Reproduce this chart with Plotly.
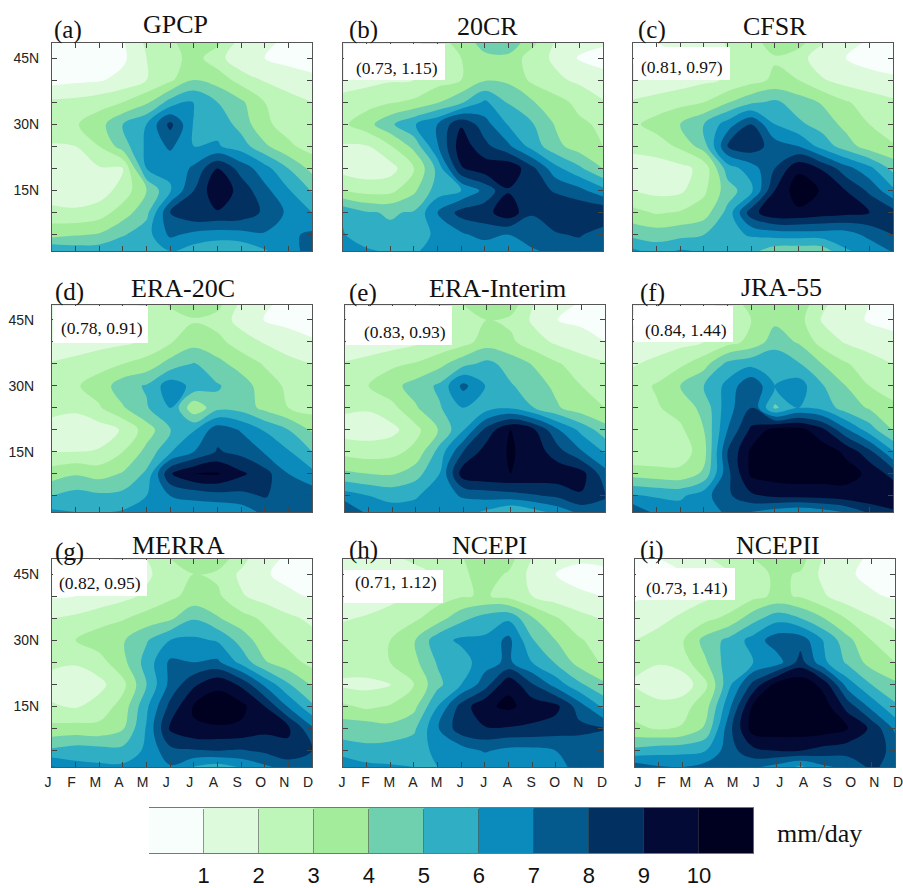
import plotly.graph_objects as go

months = ["J","F","M","A","M","J","J","A","S","O","N","D"]
lats = [48.5,45,40,35,30,25,20,15,10,5,1.3]
levels = [1,2,3,4,5,6,7,8,9,10]
band_colors = ["#F7FEFB","#DDFADC","#BEF5B9","#A3EC9B","#6FD0B0","#2FAEC4","#0A8BBC","#045A8D","#023060","#020A35","#000020"]

gpcp = [
 [.7,.7,.7,.9,2.2,2.8,3.6,3.2,1.6,1.1,.9,.9],
 [.6,.6,.6,.8,2.0,2.6,3.4,2.4,1.2,1.0,.7,.6],
 [.6,.8,.9,1.3,2.0,2.8,4.0,3.6,2.6,1.9,1.5,1.2],
 [2.2,2.3,2.6,3.0,3.8,5.4,6.1,5.0,4.2,3.0,2.4,2.0],
 [2.6,2.9,3.6,5.0,6.0,8.3,5.9,5.7,4.6,3.2,2.6,2.1],
 [1.9,2.0,3.0,4.5,6.2,7.2,6.0,6.1,5.5,4.2,3.2,2.6],
 [1.4,1.5,1.9,2.0,6.0,6.2,7.2,9.0,7.6,6.4,5.0,3.7],
 [1.2,1.3,1.5,2.4,4.0,5.9,8.0,9.8,8.6,7.3,6.1,4.9],
 [2.4,2.2,2.5,3.5,4.7,8.0,8.9,8.9,8.7,7.8,6.8,6.0],
 [3.6,3.9,4.1,4.9,5.6,7.2,6.7,6.5,6.6,6.9,6.8,7.2],
 [6.0,5.6,5.6,5.9,5.8,6.0,5.5,5.1,5.2,5.9,6.6,7.4],
]
cr20 = [
 [1.3,1.3,1.5,1.7,2.7,3.3,4.5,4.8,3.3,1.9,1.4,1.1],
 [1.2,1.2,1.4,1.7,2.5,3.0,3.7,3.7,2.5,1.8,.9,.7],
 [1.6,1.7,1.9,2.0,2.6,3.0,3.9,3.8,2.8,2.2,1.8,1.3],
 [2.3,2.6,2.9,3.2,3.9,4.8,6.2,4.9,4.1,3.4,2.7,2.1],
 [2.8,3.6,4.8,5.9,7.0,8.9,7.4,5.9,5.1,3.9,3.2,2.8],
 [1.9,1.9,2.9,4.3,6.9,9.6,8.3,7.2,5.6,4.3,3.5,3.0],
 [1.6,1.4,1.6,2.9,5.3,8.9,9.6,9.8,8.3,6.3,5.2,4.0],
 [3.0,2.6,2.7,3.8,5.5,6.0,7.3,8.9,8.4,7.9,7.3,6.3],
 [5.8,5.1,4.9,5.1,7.0,8.4,8.6,9.7,8.1,8.7,8.9,8.9],
 [6.1,5.2,5.2,5.3,6.3,6.8,7.4,7.0,7.4,7.9,8.1,7.5],
 [6.3,6.2,5.8,5.9,6.3,6.3,6.2,6.5,6.9,7.2,7.5,7.5],
]
cfsr = [
 [1.0,1.0,1.1,1.3,2.1,2.6,3.5,3.4,2.1,1.3,.9,.8],
 [.9,.9,1.0,1.2,2.0,2.5,2.9,2.4,1.4,1.0,.7,.7],
 [1.3,1.3,1.5,1.8,2.1,2.6,3.2,3.0,2.1,1.6,1.3,1.1],
 [2.1,2.4,2.7,3.0,3.9,4.8,5.2,4.5,3.9,3.1,2.6,2.2],
 [2.8,3.4,4.0,5.0,6.5,8.0,6.0,5.2,4.6,3.7,3.0,2.5],
 [2.2,2.5,3.2,4.5,8.0,8.6,7.5,7.0,5.6,4.5,3.5,3.1],
 [1.6,1.5,1.7,2.3,5.5,6.5,8.0,9.8,8.9,7.4,6.3,4.7],
 [2.0,1.7,1.8,2.8,4.5,5.7,9.0,10.6,9.9,9.0,7.8,6.2],
 [3.3,2.9,3.1,3.5,5.3,8.6,9.8,9.8,9.5,9.3,9.0,8.4],
 [4.7,4.5,4.7,5.0,5.7,6.1,6.4,6.5,6.5,6.5,7.3,8.0],
 [6.2,5.6,6.1,5.9,5.6,5.3,4.4,4.3,4.4,5.9,6.3,7.1],
]
era20c = [
 [1.2,1.2,1.3,1.5,2.3,3.1,3.6,3.3,1.8,1.1,.8,.8],
 [1.0,1.0,1.1,1.3,2.1,2.6,2.9,2.6,1.6,.95,.7,.6],
 [1.2,1.3,1.6,1.8,2.2,2.9,3.6,3.3,2.5,1.9,1.5,1.1],
 [2.1,2.4,2.7,3.0,3.4,4.4,5.1,4.3,3.6,2.9,2.3,2.0],
 [2.7,2.9,3.4,4.6,5.1,6.6,5.7,5.1,4.5,3.5,2.8,2.3],
 [2.3,2.2,2.9,3.9,4.9,6.0,3.2,4.7,4.6,3.7,3.0,2.6],
 [1.6,1.4,1.5,2.1,3.5,4.9,5.9,7.6,6.9,5.9,5.0,3.9],
 [2.0,2.0,2.1,3.0,4.3,5.9,7.0,8.1,7.7,6.9,6.1,5.0],
 [3.5,3.9,3.6,4.1,5.2,8.9,10.0,10.1,9.2,8.4,7.0,6.3],
 [5.0,5.4,5.2,5.3,6.0,7.0,7.3,7.6,7.7,8.1,7.4,7.6],
 [6.2,6.0,5.9,6.1,6.1,6.2,6.3,6.1,6.4,7.3,7.7,8.0],
]
era_interim = [
 [1.2,1.2,1.3,1.6,2.3,3.0,3.7,3.5,2.0,1.3,.9,.9],
 [1.0,1.0,1.1,1.3,1.9,2.3,3.0,2.8,1.8,1.0,.8,.7],
 [1.2,1.3,1.5,1.8,2.2,2.6,3.5,3.2,2.4,1.8,1.4,1.0],
 [2.1,2.4,2.8,3.1,3.7,4.7,5.3,4.6,3.9,3.1,2.5,2.1],
 [2.7,3.0,3.7,4.4,5.2,7.3,5.9,5.1,4.5,3.7,3.0,2.5],
 [2.2,2.1,2.7,3.9,4.9,6.0,5.6,5.9,5.0,4.1,3.4,3.0],
 [1.5,1.5,1.7,2.7,4.1,5.9,8.4,10.0,9.1,7.1,5.7,4.4],
 [2.7,2.5,2.7,3.3,5.4,8.0,9.5,10.1,9.6,8.4,7.1,5.9],
 [4.2,4.0,3.9,4.6,6.0,9.6,9.9,10.0,9.8,9.7,9.4,7.4],
 [6.5,6.0,5.7,5.9,6.6,7.1,7.4,7.6,7.9,8.2,8.9,8.1],
 [8.0,6.7,6.4,6.4,6.5,6.4,5.8,4.9,5.6,6.4,7.3,7.6],
]
jra55 = [
 [1.2,1.2,1.4,1.6,2.5,3.3,4.0,3.7,2.2,1.4,1.0,.9],
 [.9,.9,1.0,1.5,2.3,3.0,3.8,3.4,1.9,1.4,.9,.8],
 [1.3,1.4,1.7,2.0,2.6,3.3,4.5,3.9,2.6,1.9,1.5,1.2],
 [1.9,2.3,2.8,3.6,5.3,5.7,5.9,5.1,4.0,3.1,2.5,2.0],
 [2.6,3.1,4.0,5.0,6.3,7.9,6.0,6.5,5.1,4.0,3.0,2.6],
 [2.7,2.9,3.4,4.3,6.6,8.0,4.8,6.0,5.7,4.5,3.9,3.2],
 [2.3,2.5,2.8,4.0,7.0,9.2,10.4,10.4,9.3,7.2,5.5,3.9],
 [2.1,2.2,2.4,3.6,8.0,10.2,10.5,10.6,10.6,9.8,8.3,6.1],
 [3.6,3.4,3.3,4.2,7.7,10.2,10.5,10.6,10.5,10.4,9.8,8.6],
 [6.1,5.9,5.8,6.6,7.8,8.8,9.2,9.3,9.4,9.6,9.8,10.0],
 [7.8,6.7,6.5,6.7,7.1,7.0,6.5,6.1,6.5,7.1,8.2,8.8],
]
merra = [
 [.8,.8,.9,1.1,2.0,3.0,3.9,3.6,2.4,1.2,.9,.9],
 [.7,.7,.8,.9,1.8,2.6,3.0,2.8,1.8,1.1,.7,.6],
 [.9,1.0,1.3,1.7,2.2,2.8,3.3,3.2,2.1,1.6,1.2,.9],
 [2.0,2.2,2.6,2.9,3.4,3.8,4.9,4.1,3.4,2.8,2.2,1.8],
 [2.9,3.0,3.5,3.9,4.9,6.0,6.2,5.9,4.6,3.4,2.7,2.3],
 [2.2,2.1,2.6,3.7,5.4,7.2,7.0,7.2,5.7,4.1,3.4,2.7],
 [1.6,1.4,1.7,2.7,5.0,7.3,8.8,9.8,8.8,6.8,5.1,3.9],
 [2.1,1.9,2.4,3.4,5.8,8.3,10.1,10.5,10.3,9.0,6.9,5.2],
 [3.3,3.4,3.3,3.9,6.1,9.2,9.9,9.9,9.8,9.3,9.2,7.2],
 [5.2,5.5,5.4,5.3,6.2,7.7,7.9,8.0,7.9,8.2,8.7,8.0],
 [7.1,6.3,6.2,6.2,6.6,6.9,5.9,5.5,6.1,6.8,7.4,7.8],
]
ncep1 = [
 [1.4,1.5,1.8,2.2,2.7,2.9,3.8,3.4,2.0,1.4,1.1,1.2],
 [1.0,1.0,1.2,1.6,2.2,2.8,3.4,2.9,1.7,1.0,.8,.8],
 [1.2,1.4,1.7,2.1,2.6,2.9,3.1,2.7,2.0,1.5,1.1,1.0],
 [1.9,2.1,2.4,2.8,3.5,4.7,5.4,5.8,4.1,3.1,2.4,1.9],
 [2.5,2.6,3.0,3.9,5.6,6.2,6.2,7.3,5.1,4.0,3.1,2.6],
 [2.5,2.7,3.0,3.7,5.1,5.5,6.6,7.2,6.0,4.9,3.6,2.9],
 [1.8,1.7,1.9,3.0,4.7,6.0,7.5,9.8,8.1,6.6,5.2,4.2],
 [3.2,2.8,3.1,3.7,6.0,8.4,9.8,10.2,9.6,9.3,7.5,5.8],
 [4.6,4.6,4.3,4.8,6.9,8.6,8.9,8.9,8.8,8.5,8.3,8.1],
 [5.4,5.2,5.5,5.6,6.2,6.5,7.1,6.7,6.7,7.0,7.3,7.1],
 [7.0,6.3,6.1,6.0,6.0,6.2,6.2,6.2,6.3,6.8,7.2,7.2],
]
ncep2 = [
 [1.0,1.0,1.1,1.9,2.5,3.0,3.8,3.4,1.9,1.2,.9,.9],
 [.9,.9,1.0,1.3,2.0,2.6,3.2,2.9,1.7,1.1,.8,.7],
 [.9,1.1,1.4,1.8,2.1,2.7,3.2,2.9,2.1,1.4,1.1,.9],
 [1.3,1.7,2.2,2.7,3.3,4.6,5.6,5.0,4.0,2.9,2.1,1.6],
 [2.0,2.4,2.9,4.4,5.3,6.4,7.6,7.6,5.9,4.3,3.0,2.4],
 [2.2,2.1,2.5,3.9,5.6,6.0,6.5,8.4,6.2,4.8,3.6,3.0],
 [1.9,1.2,1.3,2.8,5.8,8.3,10.4,10.8,9.6,6.5,5.0,4.2],
 [2.6,2.4,2.6,3.6,6.8,10.2,10.6,10.7,10.5,8.6,6.7,5.2],
 [3.2,2.9,3.1,4.2,7.7,10.5,10.6,10.6,10.5,10.0,8.8,6.8],
 [5.3,5.6,5.7,6.0,7.6,8.7,9.0,9.0,8.6,8.4,8.5,7.7],
 [7.6,7.1,7.0,7.4,7.3,7.2,6.6,5.8,6.8,7.3,8.2,7.6],
]

grids = [gpcp,cr20,cfsr,era20c,era_interim,jra55,merra,ncep1,ncep2]
titles = ["GPCP","20CR","CFSR","ERA-20C","ERA-Interim","JRA-55","MERRA","NCEPI","NCEPII"]
tags = ["(a)","(b)","(c)","(d)","(e)","(f)","(g)","(h)","(i)"]
stats = [None,"(0.73, 1.15)","(0.81, 0.97)","(0.78, 0.91)","(0.83, 0.93)","(0.84, 1.44)","(0.82, 0.95)","(0.71, 1.12)","(0.73, 1.41)"]

W, H = 903, 888
boxes = [(52,43,312,251),(343,43,603,251),(633,43,893,251),
         (52,305,312,512),(345,305,605,512),(633,305,893,512),
         (52,559,312,767),(343,559,603,767),(635,559,895,767)]
title_xy = [(175,25),(487,26),(775,26),(183,288),(498,288),(781,287),(178,545),(489,545),(778,545)]
tag_xy = [(68,30),(363,30),(652,30),(69,292),(363,293),(652,293),(69,552),(363,550),(652,550)]
stat_xy = [None,(397,68),(682,67),(102,328),(405,332),(686,330),(100,583),(396,582),(687,588)]
white = [None,(344,44,445,80),(634,47,730,80),(53,306,148,343),(346,306,452,345),(634,306,733,342),
         (53,560,147,596),(344,570,443,603),(636,568,735,600)]
xshift = [-4,-1,3]

def px(x): return x / W
def py(y): return 1 - y / H

scale = []
n = len(band_colors)
for i, c in enumerate(band_colors):
    scale += [[i / n, c], [(i + 1) / n, c]]

fig = go.Figure()
serif = "Liberation Serif"
sans = "Liberation Sans"
anns, shapes = [], []
lat_ticks = [5,10,15,20,25,30,35,40,45]
lat_text = ["","","15N","","","30N","","","45N"]

for i, z in enumerate(grids):
    sfx = "" if i == 0 else str(i + 1)
    x0, y0, x1, y1 = boxes[i]
    fig.add_trace(go.Contour(
        z=z[::-1], x=list(range(12)), y=lats[::-1],
        xaxis="x" + sfx, yaxis="y" + sfx,
        autocontour=False, zmin=0, zmax=n,
        contours=dict(start=levels[0], end=levels[-1], size=1, coloring="fill", showlines=False),
        line=dict(width=0), colorscale=scale, showscale=False, hoverinfo="skip"))
    row, col = i // 3, i % 3
    ax = dict(domain=[px(x0), px(x1)], anchor="y" + sfx, range=[0, 11], automargin=False,
              tickmode="array", tickvals=list(range(12)),
              ticktext=months if row == 2 else [""] * 12,
              ticks="inside", ticklen=5, tickcolor="#444", tickwidth=1,
              showline=True, linecolor="#555", linewidth=1, mirror="ticks",
              showgrid=False, zeroline=False, ticklabeloverflow="allow",
              ticklabelstandoff=2, ticklabelshift=xshift[col],
              tickfont=dict(family=sans, size=14, color="#222"))
    ay = dict(domain=[py(y1), py(y0)], anchor="x" + sfx, range=[1.3, 48.4], automargin=False,
              tickmode="array", tickvals=lat_ticks,
              ticktext=lat_text if col == 0 else [""] * 9,
              ticks="inside", ticklen=5, tickcolor="#444", tickwidth=1,
              showline=True, linecolor="#555", linewidth=1, mirror="ticks",
              showgrid=False, zeroline=False,
              ticklabelstandoff=14 if row == 1 else 9,
              tickfont=dict(family=sans, size=14, color="#222"))
    fig.update_layout({"xaxis" + sfx: ax, "yaxis" + sfx: ay})
    anns.append(dict(text=titles[i], x=px(title_xy[i][0]), y=py(title_xy[i][1]),
                     font=dict(family=serif, size=26, color="#111")))
    anns.append(dict(text=tags[i], x=px(tag_xy[i][0]), y=py(tag_xy[i][1]),
                     font=dict(family=serif, size=25, color="#111")))
    if stats[i]:
        a, b, c, d = white[i]
        shapes.append(dict(type="rect", xref="paper", yref="paper", x0=px(a), x1=px(c),
                           y0=py(d), y1=py(b), fillcolor="white", line=dict(width=0), layer="above"))
        anns.append(dict(text=stats[i], x=px(stat_xy[i][0]), y=py(stat_xy[i][1]),
                         font=dict(family=serif, size=17.5, color="#111")))

bar_x = [k + 0.5 for k in range(n)]
fig.add_trace(go.Heatmap(z=[bar_x], x=bar_x, y=[0], xaxis="x10", yaxis="y10",
                         zmin=0, zmax=n, colorscale=scale, showscale=False, hoverinfo="skip"))
fig.update_layout(
    xaxis10=dict(domain=[px(148.6), px(754)], anchor="y10", range=[0, n], automargin=False,
                 tickmode="array", tickvals=levels, ticktext=[str(v) for v in levels],
                 ticks="inside", ticklen=44, tickcolor="rgba(60,60,60,0.55)", tickwidth=1,
                 showline=True, linecolor="#777", linewidth=1, mirror=True, showgrid=False, zeroline=False,
                 ticklabelstandoff=3, tickfont=dict(family=sans, size=22, color="#111")),
    yaxis10=dict(domain=[py(853), py(808)], anchor="x10", range=[-0.5, 0.5], visible=False, automargin=False),
)
anns.append(dict(text="mm/day", x=px(819), y=py(833), font=dict(family=serif, size=26, color="#111")))

for a in anns:
    a.update(xref="paper", yref="paper", showarrow=False, xanchor="center", yanchor="middle")
fig.update_layout(width=W, height=H, margin=dict(l=0, r=0, t=0, b=0, pad=0, autoexpand=False),
                  paper_bgcolor="white", plot_bgcolor="white",
                  annotations=anns, shapes=shapes, showlegend=False)
fig.write_html("out.html", config={"displayModeBar": False},
               post_script="document.body.style.margin='0';document.documentElement.style.overflow='hidden';")
